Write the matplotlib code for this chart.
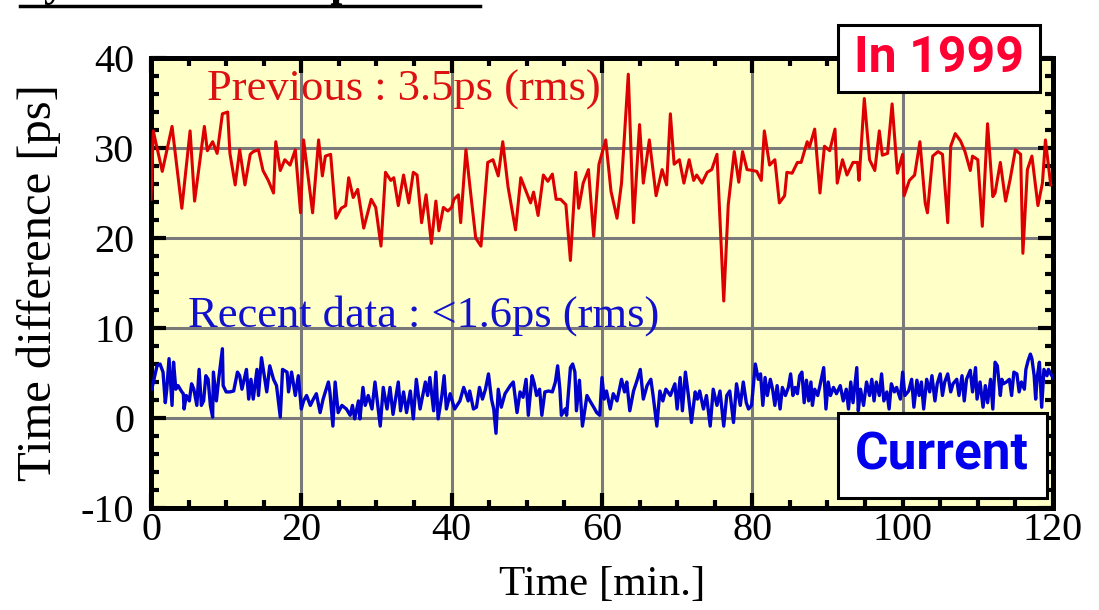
import matplotlib
matplotlib.use("Agg")
import matplotlib.pyplot as plt
import numpy as np
from matplotlib import font_manager
from matplotlib.patches import Rectangle
from matplotlib.lines import Line2D
from matplotlib.ticker import MultipleLocator

plt.rcParams["axes.unicode_minus"] = False

red_t = [0.0, 0.3, 1.5, 2.8, 4.1, 5.2, 5.8, 7.1, 7.5, 8.2, 8.8, 9.5, 10.2, 10.5, 11.2,
         11.8, 12.5, 13.2, 13.6, 14.3, 14.9, 15.6, 16.3, 16.6, 17.2, 17.8, 18.5, 19.2, 19.9, 20.3,
         21.5, 22.3, 22.8, 23.2, 23.9, 24.6, 25.3, 25.9, 26.3, 26.9, 27.5, 28.3, 29.3, 29.9, 30.6,
         31.2, 31.9, 32.3, 32.9, 33.6, 34.3, 34.9, 35.4, 36.0, 36.6, 37.3, 37.9, 38.3, 38.9, 39.5, 40.0,
         40.3, 40.9, 41.2, 41.9, 42.5, 43.2, 43.9, 44.8, 45.5, 46.2, 46.8, 47.5, 48.5, 49.2, 49.9,
         50.5, 50.9, 51.5, 52.2, 52.8, 53.4, 53.9, 54.5, 55.2, 55.8, 56.5, 56.9, 57.5, 58.2, 58.9,
         59.6, 60.5, 61.2, 62.0, 62.6, 63.5, 64.2, 65.0, 65.5, 66.3, 67.2, 68.0, 68.6, 69.1, 69.6,
         70.3, 70.9, 71.6, 72.2, 72.6, 73.3, 74.0, 74.6, 75.3, 76.2, 76.8, 77.6, 78.2, 78.7, 79.3, 80.1,
         80.6, 81.2, 81.6, 82.3, 83.0, 83.6, 84.3, 84.6, 85.3, 86.0, 86.5, 87.3, 87.6, 88.3, 89.0,
         89.6, 90.3, 91.0, 91.3, 92.0, 92.6, 93.4, 94.0, 94.2, 94.9, 95.6, 96.3, 96.9, 97.3, 98.0,
         98.6, 99.3, 100.0, 100.2, 100.9, 101.6, 102.3, 103.0, 103.3, 104.0, 104.7, 105.3, 106.0, 106.4, 107.0,
         107.7, 108.3, 109.0, 109.3, 110.0, 110.6, 111.3, 112.0, 112.3, 113.0, 113.7, 114.3, 115.0, 115.7, 116.0,
         116.6, 117.2, 118.0, 118.6, 119.0, 119.7]
red_dt = [24.3, 31.9, 27.4, 32.4, 23.3, 31.9, 24.1, 32.4, 29.7, 30.7, 29.4, 33.8, 34.0, 29.4, 25.9,
          29.8, 25.9, 29.3, 29.6, 29.8, 27.5, 26.4, 25.0, 30.7, 27.5, 28.7, 28.1, 29.8, 22.8, 30.9,
          22.8, 30.9, 26.9, 29.1, 29.3, 22.2, 23.3, 23.6, 26.7, 24.5, 25.4, 21.1, 24.3, 23.4, 19.1,
          27.3, 26.4, 26.7, 23.6, 27.0, 23.9, 27.3, 27.0, 21.7, 24.8, 19.4, 24.1, 20.8, 23.4, 23.0, 23.4,
          24.3, 24.8, 21.7, 29.8, 25.2, 20.0, 19.1, 28.4, 28.7, 26.9, 30.7, 25.7, 20.9, 26.7, 25.2,
          23.9, 25.1, 22.5, 27.0, 26.3, 27.1, 24.3, 24.3, 23.7, 17.5, 27.3, 23.3, 26.1, 27.6, 20.2,
          28.2, 30.9, 25.2, 22.2, 26.1, 38.2, 21.7, 32.6, 26.1, 30.9, 24.7, 27.6, 25.9, 33.8, 28.2,
          28.7, 26.1, 28.7, 26.4, 27.0, 26.1, 27.3, 27.6, 29.3, 13.0, 23.7, 29.6, 26.2, 29.6, 27.6, 27.5,
          27.4, 26.4, 31.9, 28.1, 28.7, 23.9, 24.7, 27.3, 27.2, 28.4, 28.4, 30.7, 30.1, 32.1, 25.0,
          30.2, 29.7, 32.1, 26.1, 28.7, 27.0, 28.4, 28.4, 26.4, 35.5, 28.7, 27.5, 31.9, 29.2, 29.4,
          34.9, 27.2, 29.3, 24.7, 26.4, 27.0, 30.7, 23.9, 22.8, 29.1, 29.6, 29.3, 21.7, 30.2, 31.6,
          30.8, 29.6, 27.5, 29.1, 28.7, 21.3, 32.7, 24.6, 25.0, 28.4, 24.1, 26.5, 29.8, 29.3, 18.3,
          27.6, 29.1, 23.6, 26.1, 30.9, 25.9]

# recent data
blue_t = [0.1, 0.8, 1.2, 1.6, 1.9, 2.1, 2.4, 2.8, 3.0, 3.3, 3.6, 4.1, 4.3, 4.4, 4.7,
          5.1, 5.4, 5.7, 6.1, 6.4, 6.7, 7.0, 7.3, 7.6, 7.9, 8.2, 8.3, 8.7, 9.0, 9.5,
          9.6, 10.0, 10.5, 11.0, 11.5, 11.8, 12.1, 12.7, 13.0, 13.3, 13.6, 14.1, 14.3, 14.7, 14.9,
          15.4, 15.8, 16.3, 16.7, 17.2, 17.5, 18.1, 18.3, 18.7, 19.2, 19.6, 20.0, 20.3, 20.7, 21.2,
          21.6, 22.0, 22.5, 22.9, 23.6, 23.8, 24.2, 24.5, 24.9, 25.4, 26.0, 26.5, 26.8, 27.1, 27.6,
          27.8, 28.2, 28.5, 28.9, 29.4, 29.8, 30.5, 30.9, 31.4, 31.8, 32.2, 32.9, 33.2, 33.6, 34.0,
          34.5, 34.9, 35.3, 35.8, 36.5, 36.8, 37.1, 37.6, 37.9, 38.2, 38.7, 39.0, 39.3, 39.8, 40.4, 41.1,
          41.6, 41.9, 42.2, 42.4, 42.9, 43.3, 43.7, 44.1, 44.5, 44.9, 45.3, 45.6, 45.9, 46.2, 46.6,
          47.1, 47.8, 48.2, 48.7, 49.1, 49.5, 49.9, 50.2, 50.7, 51.0, 51.3, 51.7, 52.0, 52.4, 52.9,
          53.4, 53.8, 54.1, 54.4, 54.6, 55.1, 55.3, 55.8, 56.1, 56.4, 56.6, 57.0, 57.4, 58.0, 58.4,
          58.9, 59.3, 59.7, 60.0, 60.3, 60.6, 61.1, 61.5, 62.0, 62.6, 63.0, 63.3, 63.7, 64.2, 64.6,
          65.1, 65.5, 66.0, 66.5, 66.8, 67.3, 67.7, 68.1, 68.5, 69.1, 69.7, 70.0, 70.4, 70.7, 71.1,
          71.5, 71.9, 72.4, 72.7, 73.0, 73.5, 73.9, 74.4, 74.8, 75.3, 75.7, 76.2, 76.6, 77.0, 77.5,
          77.9, 78.4, 78.8, 79.2, 79.5, 79.9, 80.4, 80.8,
          81.1, 81.4, 81.7, 82.0, 82.4, 82.7, 83.0, 83.3, 83.7, 84.0, 84.4, 84.8, 85.1, 85.4, 85.7,
          86.0, 86.3, 86.6, 86.9, 87.2, 87.5, 87.8, 88.0, 88.3, 88.7, 89.0, 89.5, 89.8, 90.1, 90.4,
          90.8, 91.2, 91.7, 92.1, 92.5, 92.8, 93.1, 93.4, 93.9, 94.1, 94.4, 94.8, 95.2, 95.6, 95.9,
          96.2, 96.5, 96.9, 97.2, 97.5, 97.9, 98.2, 98.5, 98.9, 99.2, 99.7, 100.0, 100.3, 100.8, 101.2,
          101.5, 101.9, 102.2, 102.5, 102.8, 103.2, 103.6, 103.9, 104.3, 104.6, 105.0, 105.3, 105.6, 106.0, 106.4,
          106.7, 107.2, 107.5, 107.9, 108.2, 108.5, 109.0, 109.3, 109.7, 109.9, 110.3, 110.7, 111.0, 111.3, 111.7,
          112.0, 112.3, 112.6, 113.0, 113.2, 113.4, 113.8, 114.2, 114.5, 114.8, 115.2, 115.5, 115.8, 116.2, 116.4,
          116.7, 117.0, 117.2, 117.5, 117.7, 117.9, 118.2, 118.5, 118.8, 119.2, 119.4, 119.7, 120.0]
blue_dt = [3.2, 5.8, 6.0, 5.1, 1.7, 3.2, 6.6, 1.4, 6.2, 3.2, 3.6, 2.9, 2.7, 1.0, 2.5,
           1.9, 3.8, 3.2, 1.4, 5.4, 1.4, 1.9, 4.7, 4.3, 1.4, 0.1, 5.1, 1.9, 4.3, 7.7,
           3.6, 2.9, 2.9, 3.0, 5.1, 4.7, 3.2, 5.4, 2.1, 4.3, 2.1, 5.4, 2.5, 6.7, 5.6,
           2.9, 5.8, 4.3, 3.6, 0.1, 5.4, 5.1, 2.9, 5.1, 2.5, 4.7, 1.0, 1.9, 2.5, 1.4,
           2.1, 2.7, 0.6, 2.1, 4.0, 2.9, -0.9, 4.0, 0.6, 1.4, 1.0, 0.3, 1.4, -0.1, 1.9,
           -0.1, 3.4, 1.4, 2.5, 1.0, 4.0, -0.9, 3.4, 1.0, 3.4, 0.4, 4.0, 0.8, 2.9, 0.6,
           3.0, -0.1, 4.3, 1.0, 4.0, 2.5, 4.5, 0.8, 5.1, -0.1, 2.5, 4.7, 1.0, 2.7, 1.0, 1.9,
           3.4, 2.7, 1.9, 3.0, 1.0, 1.2, 3.4, 2.1, 3.2, 4.9, 2.1, 1.0, -1.7, 3.2, 1.2,
           2.7, 3.6, 4.0, 0.6, 2.9, 2.3, 4.3, 0.3, 4.7, 3.8, 2.5, 3.2, 0.3, 2.9, 3.0,
           2.9, 4.0, 5.8, 3.2, 0.3, 1.0, 0.3, 5.6, 6.0, 5.1, 0.8, 4.2, -0.9, 2.5, 1.9,
           1.2, 0.6, 0.3, 4.5, 2.1, 3.0, 1.0, 2.7, 1.9, 4.3, 2.9, 4.0, 0.8, 3.0, 4.0,
           5.4, 2.1, 3.6, 4.3, 2.5, -0.9, 3.0, 1.9, 3.2, 2.5, 3.8, 1.0, 4.5, 0.8, 5.1,
           2.5, -0.5, 2.9, 2.1, 3.0, 1.0, 2.5, -0.9, 3.2, 1.4, 3.0, -0.9, 2.5, 3.0, -0.5,
           3.8, 1.4, 4.0, 1.7, 1.0, 1.4, 6.0, 4.3,
           4.9, 1.4, 4.5, 2.5, 4.3, 3.2, 1.4, 3.6, 1.0, 3.4, 2.5, 3.4, 4.9, 2.5, 3.4,
           2.7, 4.7, 5.1, 1.7, 4.2, 1.9, 4.0, 1.4, 3.2, 2.5, 3.6, 5.6, 1.0, 4.0, 2.5,
           3.4, 2.7, 3.6, 1.9, 3.2, 1.0, 4.0, 1.7, 5.6, 0.8, 3.2, 1.4, 4.0, 2.5, 4.3,
           1.9, 4.0, 2.5, 4.9, 1.9, 2.9, 1.0, 3.8, 2.9, 3.4, 2.1, 5.1, 2.5, 3.0, 4.3,
           1.2, 4.2, 2.5, 4.0, 1.0, 4.3, 2.9, 4.7, 1.9, 3.8, 4.9, 2.5, 4.0, 4.9, 2.9,
           3.8, 4.3, 2.5, 4.7, 1.9, 4.3, 5.3, 2.9, 5.6, 2.1, 4.0, 1.2, 3.6, 1.7, 4.3,
           1.0, 6.2, 5.8, 2.5, 4.3, 3.8, 4.0, 4.3, 2.5, 5.1, 4.9, 2.9, 4.0, 3.2, 5.4,
           6.4, 7.1, 6.6, 4.7, 2.1, 4.5, 6.2, 1.2, 5.4, 4.7, 5.4, 4.9, 4.5]

xticks = [0, 20, 40, 60, 80, 100, 120]
yticks = [-10, 0, 10, 20, 30, 40]

serif = "Liberation Serif"
names = {f.name for f in font_manager.fontManager.ttflist}
box_font = "Liberation Sans Narrow" if "Liberation Sans Narrow" in names else "Roboto"

fig = plt.figure(figsize=(10.99, 6.10), dpi=100)
ax = fig.add_axes([0.1374, 0.1672, 0.8207, 0.7377])
ax.set_facecolor("#ffffc8")

ax.plot(red_t, red_dt, color="#dd0000", lw=2.2, zorder=3)
ax.plot(blue_t, blue_dt, color="#0000cc", lw=2.4, zorder=3)

ax.set_xlim(0, 120)
ax.set_ylim(-10, 40)
ax.set_xticks(xticks)
ax.set_yticks(yticks)
ax.xaxis.set_minor_locator(MultipleLocator(5))
ax.yaxis.set_minor_locator(MultipleLocator(2))
ax.set_axisbelow(True)
ax.grid(True, which="major", color="#7a7a7a", lw=2.2)

ax.tick_params(which="both", direction="in", top=True, right=True, width=3, color="black")
ax.tick_params(which="major", length=11)
ax.tick_params(which="minor", length=6)
ax.tick_params(axis="x", labelsize=29, pad=3)
ax.tick_params(axis="y", labelsize=29, pad=12)
for lab in ax.get_xticklabels() + ax.get_yticklabels():
    lab.set_family(serif)
for sp in ax.spines.values():
    sp.set_linewidth(3.6)

ax.set_xlabel("Time [min.]", family=serif, fontsize=31, labelpad=12)
ax.set_ylabel("Time difference [ps]", family=serif, fontsize=35, labelpad=14)

ax.text(7.45, 35.3, "Previous : 3.5ps (rms)", family=serif, fontsize=32,
        color="#dd1111", va="baseline", zorder=4)
ax.text(4.9, 10.2, "Recent data : <1.6ps (rms)", family=serif, fontsize=32,
        color="#1111cc", va="baseline", zorder=4)

# label boxes
fig.add_artist(Rectangle((0.7625, 0.8492), 0.1838, 0.1098, transform=fig.transFigure,
                         facecolor="white", edgecolor="black", lw=2.2, zorder=10))
fig.text(0.8544, 0.9041, "In 1999", family=box_font, fontweight="bold", fontsize=36,
         color="#ff0033", ha="center", va="center", zorder=11)
fig.add_artist(Rectangle((0.7625, 0.1836), 0.1902, 0.1393, transform=fig.transFigure,
                         facecolor="white", edgecolor="black", lw=2.2, zorder=10))
fig.text(0.8572, 0.2525, "Current", family=box_font, fontweight="bold", fontsize=37,
         color="#0000ee", ha="center", va="center", zorder=11)

# heading cut off by the top edge: only its descenders and underline show
fig.text(20 / 1099, 1 + 4 / 610, "System time comparison", family=serif, fontweight="bold",
         fontsize=31, va="baseline", ha="left")
fig.add_artist(Line2D([20 / 1099, 480 / 1099], [1 - 6 / 610, 1 - 6 / 610],
                      transform=fig.transFigure, color="black", lw=2.5))

fig.savefig("out.png", dpi=100)
